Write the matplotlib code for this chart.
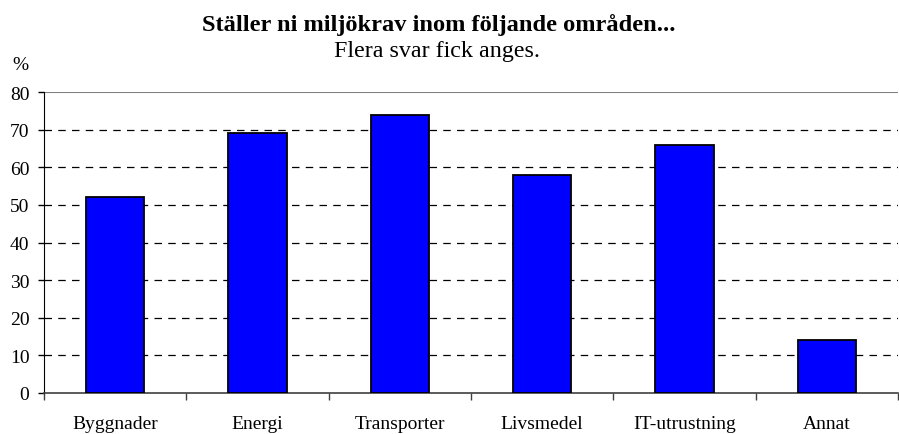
import matplotlib
matplotlib.use("Agg")
import matplotlib.pyplot as plt
import numpy as np

categories = ["Byggnader", "Energi", "Transporter", "Livsmedel", "IT-utrustning", "Annat"]
values = [52, 69, 74, 58, 66, 14]
yticks = [0, 10, 20, 30, 40, 50, 60, 70, 80]

plt.rcParams['font.family'] = ['Liberation Serif', 'DejaVu Serif']

fig = plt.figure(figsize=(8.99, 4.35), dpi=100)
ax = fig.add_axes([44/899, 1-394/435, 854/899, (394-93)/435])

x = np.arange(len(categories))
ax.bar(x, values, width=0.41, color="#0000FF", edgecolor="black", linewidth=1.3, zorder=3)

ax.set_xlim(-0.5, len(categories)-0.5)
ax.set_ylim(0, 80)
ax.set_yticks(yticks)
ax.set_yticklabels([str(t) for t in yticks], fontsize=14)
for t in yticks[1:-1]:
    ax.axhline(t, color="black", linestyle=(0, (6, 5)), linewidth=0.9, zorder=1)
ax.axhline(80, color="#808080", linewidth=1.5, zorder=1)

ax.set_xticks(x)
ax.set_xticklabels(categories, fontsize=14)
ax.set_xticks(np.arange(-0.5, len(categories)), minor=True)
ax.tick_params(axis='x', which='major', length=0, pad=16)
ax.tick_params(axis='x', which='minor', length=5, direction='out', width=1, color='#404040')
ax.tick_params(axis='y', length=4.5, direction='out', width=1, pad=6)

for s in ['top', 'right']:
    ax.spines[s].set_visible(False)
ax.spines['left'].set_color('black')
ax.spines['bottom'].set_color('#404040')
ax.spines['bottom'].set_linewidth(1.2)

fig.text(438.5/899, 1-31/435, "Ställer ni miljökrav inom följande områden...", ha='center', va='baseline',
         fontsize=17.6, fontweight='bold')
fig.text(437.5/899, 1-57/435, "Flera svar fick anges.", ha='center', va='baseline', fontsize=17.3)
fig.text(20/899, 1-65/435, "%", ha='center', va='center', fontsize=14)

fig.savefig("out.png", dpi=100)
